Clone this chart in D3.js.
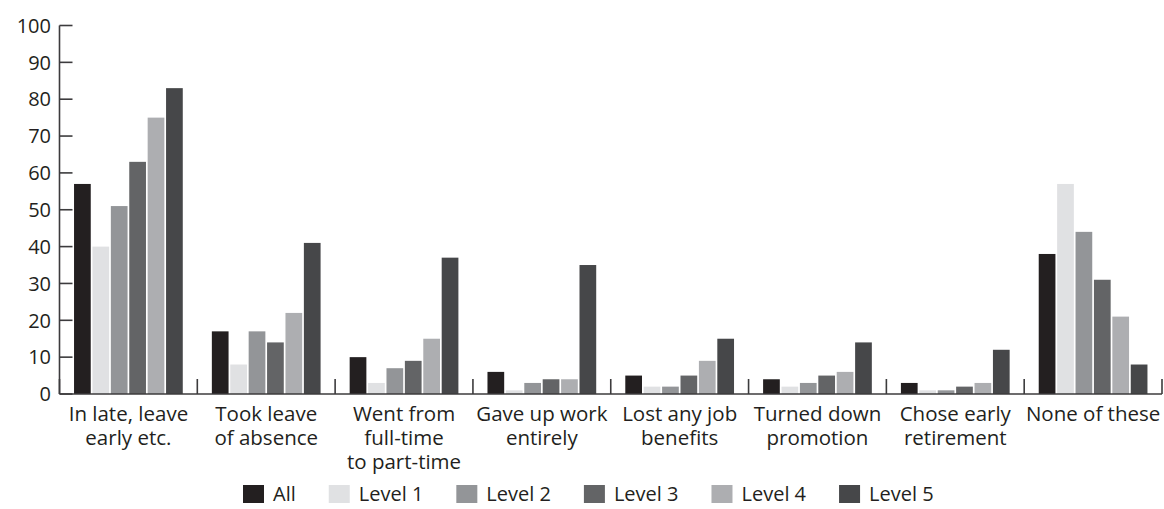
<html>
  <head>
    <meta charset="UTF-8">
    <script src="https://d3js.org/d3.v7.min.js"></script>
    <style>
      body { margin: 0; background: #fff; }
      svg { font-family: "Open Sans", "Noto Sans", sans-serif; }
      .axis-line { stroke: #3c3b3d; stroke-width: 1.6; fill: none; }
      .tick-label { font-size: 20px; fill: #231f20; }
      .cat-label { font-size: 20.5px; fill: #231f20; }
      .legend-text { font-size: 20px; fill: #231f20; }
    </style>
  </head>
  <body>
    <div id="chart"></div>
    <script>
      // data
      var categories = [
        ["In late, leave", "early etc."],
        ["Took leave", "of absence"],
        ["Went from", "full-time", "to part-time"],
        ["Gave up work", "entirely"],
        ["Lost any job", "benefits"],
        ["Turned down", "promotion"],
        ["Chose early", "retirement"],
        ["None of these"]
      ];
      var seriesNames = ["All", "Level 1", "Level 2", "Level 3", "Level 4", "Level 5"];
      var seriesColors = ["#231f20", "#e0e1e3", "#939598", "#636466", "#adaeb1", "#464749"];

      var allValues    = [57, 17, 10, 6, 5, 4, 3, 38];
      var level1Values = [40,  8,  3, 1, 2, 2, 1, 57];
      var level2Values = [51, 17,  7, 3, 2, 3, 1, 44];
      var level3Values = [63, 14,  9, 4, 5, 5, 2, 31];
      var level4Values = [75, 22, 15, 4, 9, 6, 3, 21];
      var level5Values = [83, 41, 37, 35, 15, 14, 12, 8];
      var seriesValues = [allValues, level1Values, level2Values, level3Values, level4Values, level5Values];

      var yTicks = [0, 10, 20, 30, 40, 50, 60, 70, 80, 90, 100];

      var width = 1164, height = 509;
      var plotLeft = 59.5, plotRight = 1162, plotTop = 25.5, plotBottom = 394;

      var svg = d3.select("#chart").append("svg")
        .attr("width", width)
        .attr("height", height);

      /* Scales */
      var catIndex = d3.range(categories.length);
      var x0 = d3.scaleBand()
        .domain(catIndex)
        .range([plotLeft, plotRight])
        .padding(0);

      var x1 = d3.scaleBand()
        .domain(seriesNames)
        .range([0, x0.bandwidth()])
        .paddingInner(0.092)
        .paddingOuter(0.79);

      var y = d3.scaleLinear()
        .domain([0, 100])
        .range([plotBottom, plotTop]);

      var color = d3.scaleOrdinal()
        .domain(seriesNames)
        .range(seriesColors);

      /* Bars */
      var groups = svg.append("g").attr("class", "bars")
        .selectAll("g")
        .data(catIndex).enter()
        .append("g")
        .attr("transform", d => `translate(${x0(d)},0)`);

      groups.selectAll("rect")
        .data(ci => seriesNames.map((s, si) => ({ s: s, v: seriesValues[si][ci] })))
        .enter()
        .append("rect")
        .attr("x", d => x1(d.s))
        .attr("y", d => y(d.v))
        .attr("width", x1.bandwidth())
        .attr("height", d => plotBottom - y(d.v))
        .attr("fill", d => color(d.s));

      /* Y axis: line + inward ticks */
      var yAxis = svg.append("g").attr("class", "y axis");
      yAxis.append("line")
        .attr("class", "axis-line")
        .attr("x1", plotLeft).attr("x2", plotLeft)
        .attr("y1", y(100)).attr("y2", y(0));
      yAxis.selectAll(".ytick")
        .data(yTicks).enter()
        .append("line")
        .attr("class", "axis-line")
        .attr("x1", plotLeft).attr("x2", plotLeft + 13)
        .attr("y1", d => y(d)).attr("y2", d => y(d));
      yAxis.selectAll(".tick-label")
        .data(yTicks).enter()
        .append("text")
        .attr("class", "tick-label")
        .attr("x", 51)
        .attr("y", d => y(d))
        .attr("dy", "0.36em")
        .attr("text-anchor", "end")
        .text(d => d);

      /* X axis: baseline + category dividers */
      var xAxis = svg.append("g").attr("class", "x axis");
      xAxis.append("line")
        .attr("class", "axis-line")
        .attr("x1", plotLeft).attr("x2", plotRight)
        .attr("y1", plotBottom).attr("y2", plotBottom);
      var dividers = catIndex.map(i => x0(i)).concat([plotRight]);
      xAxis.selectAll(".divider")
        .data(dividers).enter()
        .append("line")
        .attr("class", "axis-line")
        .attr("x1", d => d).attr("x2", d => d)
        .attr("y1", plotBottom - 15).attr("y2", plotBottom);

      xAxis.selectAll(".cat-label")
        .data(catIndex).enter()
        .append("text")
        .attr("class", "cat-label")
        .attr("text-anchor", "middle")
        .attr("x", d => x0(d) + x0.bandwidth() / 2)
        .attr("y", 421)
        .each(function(d) {
          var t = d3.select(this);
          categories[d].forEach(function(line, i) {
            t.append("tspan")
              .attr("x", x0(d) + x0.bandwidth() / 2)
              .attr("dy", i === 0 ? 0 : 24)
              .text(line);
          });
        });

      /* Legend */
      var legend = svg.append("g").attr("class", "legend");
      var lx = 243;
      seriesNames.forEach(function(s) {
        legend.append("rect")
          .attr("x", lx).attr("y", 485)
          .attr("width", 21).attr("height", 18)
          .attr("fill", color(s));
        var t = legend.append("text")
          .attr("class", "legend-text")
          .attr("x", lx + 30)
          .attr("y", 501)
          .text(s);
        lx = lx + 30 + t.node().getComputedTextLength() + 33;
      });
    </script>
  </body>
</html>
